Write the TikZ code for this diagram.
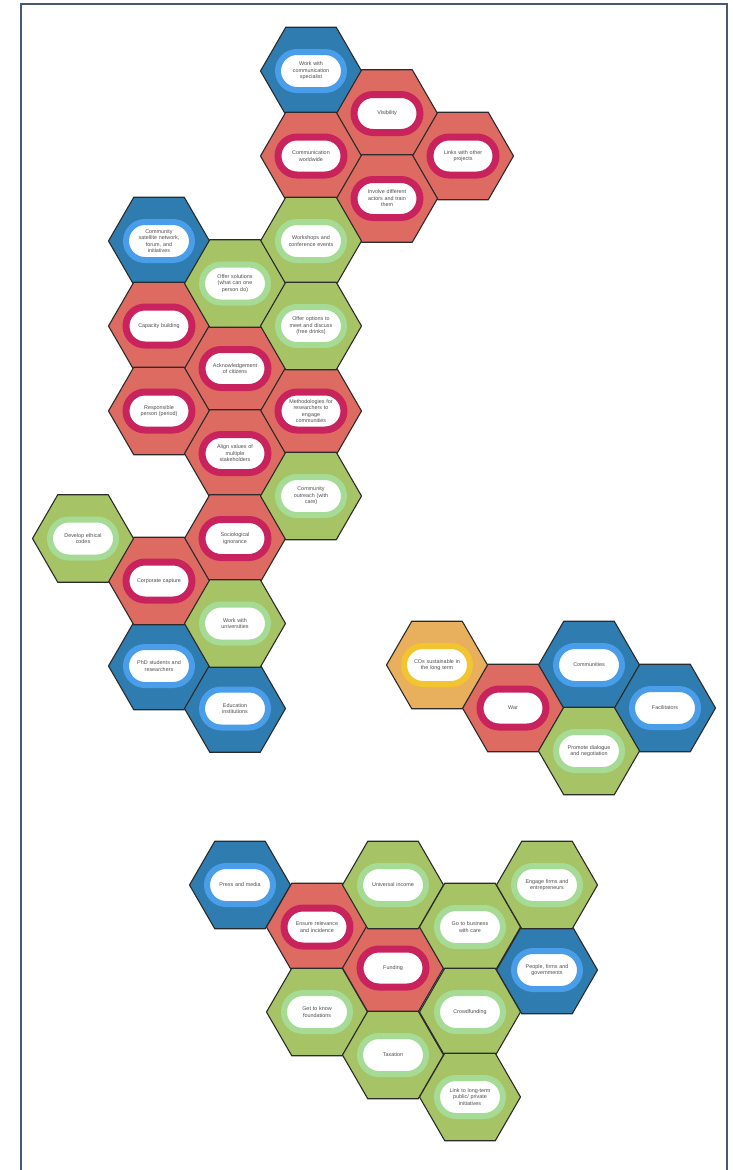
\documentclass[tikz,border=0pt]{standalone}
\usepackage{fontspec}
\setmainfont{Liberation Sans}
\usetikzlibrary{shapes.geometric}
\definecolor{hexblue}{HTML}{2F7CB0}
\definecolor{ringblue}{HTML}{4A9DE8}
\definecolor{hexred}{HTML}{DE6B61}
\definecolor{ringred}{HTML}{C9235E}
\definecolor{hexgreen}{HTML}{A6C466}
\definecolor{ringgreen}{HTML}{A6DB95}
\definecolor{hexorange}{HTML}{E8B05C}
\definecolor{ringorange}{HTML}{F2C430}
\definecolor{hexline}{HTML}{2B2B2B}
\definecolor{textgray}{HTML}{4D4D4D}
\definecolor{framecol}{HTML}{4B5873}

\begin{document}
\begin{tikzpicture}[x=1pt, y=-1pt,
  hexcell/.style={regular polygon, regular polygon sides=6, minimum size=101pt,
                  inner sep=0pt, draw=hexline, line width=1.1pt},
  pill/.style={draw, line width=6pt, rounded corners=19pt, fill=white,
               minimum width=66pt, minimum height=38pt, inner sep=0pt,
               text width=62pt, align=center, text=textgray,
               font=\fontsize{5.4}{6.5}\selectfont},
  frame/.style={draw=framecol, line width=2pt}
]
  \useasboundingbox (0,0) rectangle (733,1170);
  \draw[frame] (21,1170) -- (21,4) -- (727,4) -- (727,1170);

  % blue cells
  \foreach \n/\x/\y/\t in {
      wcs/311/71/{Work with\\communication\\specialist},
      sat/159/241/{Community\\satellite network,\\forum, and\\initiatives},
      phd/159/666/{PhD students and\\researchers},
      edu/235/708.5/{Education\\institutions},
      com/589/665/{Communities},
      fac/665/708/{Facilitators},
      prs/240/885/{Press and media},
      pfg/547/970/{People, firms and\\governments}} {
    \node[hexcell, fill=hexblue] (\n) at (\x,\y) {};
    \node[pill, draw=ringblue] (\n-t) at (\n) {\t};
  }

  % red cells
  \foreach \n/\x/\y/\t in {
      vis/387/113.5/{Visibility},
      cww/311/156/{Communication\\worldwide},
      lnk/463/156/{Links with other\\projects},
      inv/387/198.5/{Involve different\\actors and train\\them},
      cap/159/326/{Capacity building},
      ack/235/368.5/{Acknowledgement\\of citizens},
      rsp/159/411/{Responsible\\person (period)},
      mth/311/411/{Methodologies for\\researchers to\\engage\\communities},
      aln/235/453.5/{Align values of\\multiple\\stakeholders},
      soc/235/538.5/{Sociological\\ignorance},
      cor/159/581/{Corporate capture},
      war/513/708/{War},
      ens/317/927/{Ensure relevance\\and incidence},
      fnd/393/968/{Funding}} {
    \node[hexcell, fill=hexred] (\n) at (\x,\y) {};
    \node[pill, draw=ringred, line width=7pt] (\n-t) at (\n) {\t};
  }

  % green cells
  \foreach \n/\x/\y/\t in {
      wsh/311/241/{Workshops and\\conference events},
      sol/235/283.5/{Offer solutions\\(what can one\\person do)},
      opt/311/326/{Offer options to\\meet and discuss\\(free drinks)},
      out/311/496/{Community\\outreach (with\\care)},
      eth/83/538.5/{Develop ethical\\codes},
      uni/235/623.5/{Work with\\universities},
      dia/589/751/{Promote dialogue\\and negotiation},
      inc/393/885/{Universal income},
      bus/470/927/{Go to business\\with care},
      eng/547/885/{Engage firms and\\entrepreneurs},
      gtk/317/1012/{Get to know\\foundations},
      crw/470/1012/{Crowdfunding},
      tax/393/1055/{Taxation},
      lng/470/1097/{Link to long-term\\public/ private\\initiatives}} {
    \node[hexcell, fill=hexgreen] (\n) at (\x,\y) {};
    \node[pill, draw=ringgreen] (\n-t) at (\n) {\t};
  }

  % orange cell
  \node[hexcell, fill=hexorange] (cos) at (437,665) {};
  \node[pill, draw=ringorange] (cos-t) at (cos) {COs sustainable in\\the long term};
\end{tikzpicture}
\end{document}
